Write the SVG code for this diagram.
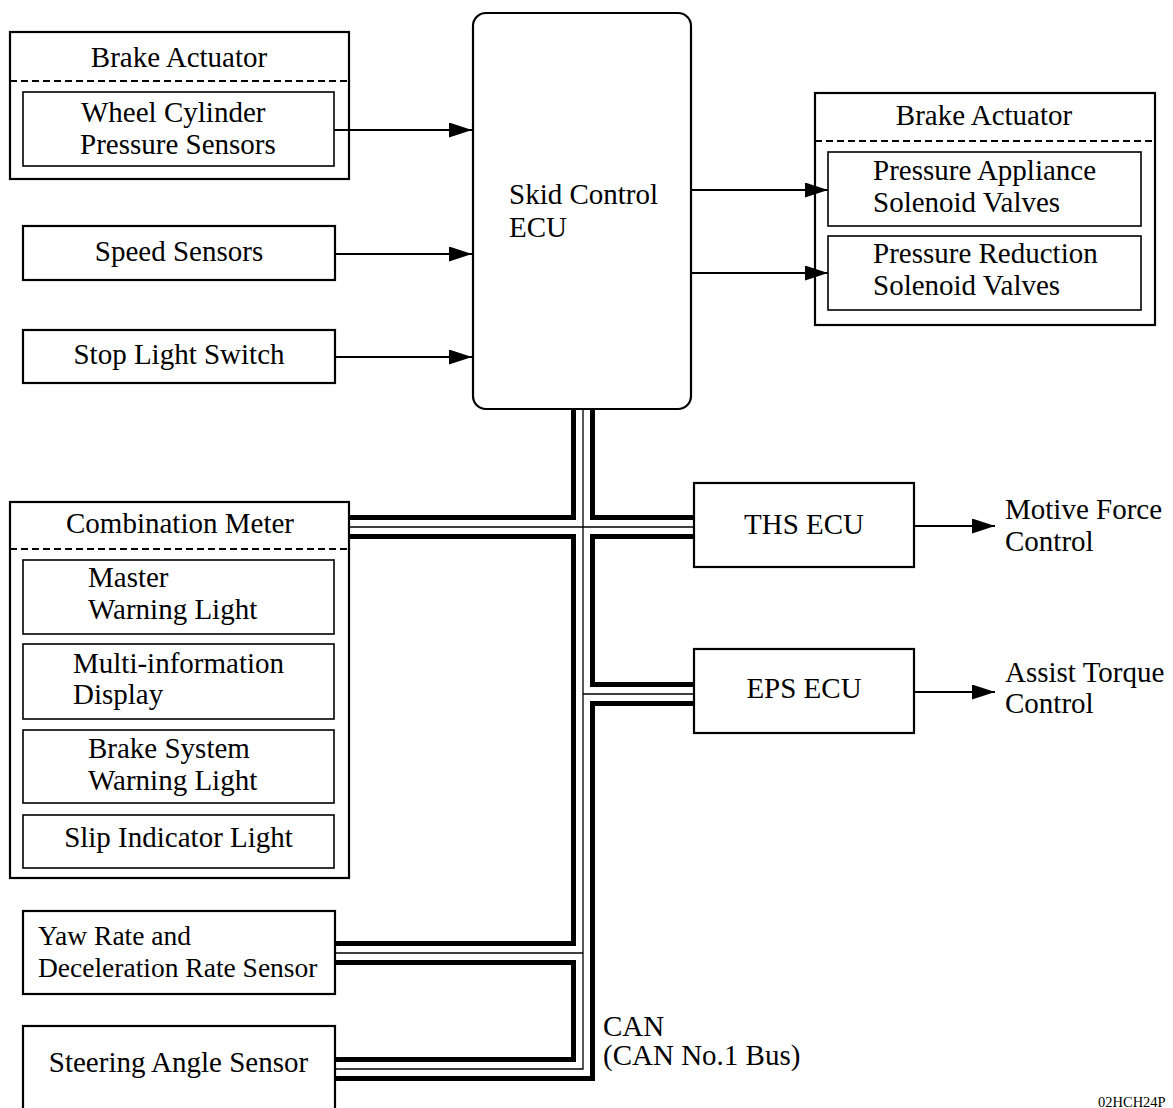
<svg xmlns="http://www.w3.org/2000/svg" width="1173" height="1108" viewBox="0 0 1173 1108">
<style>
text{font-family:"Liberation Serif","Times New Roman",serif;font-size:29px;fill:#000}
.c{text-anchor:middle}
.s{font-size:27.5px}
.box{fill:none;stroke:#000;stroke-width:2.2}
.inner{fill:none;stroke:#000;stroke-width:1.6}
.dash{stroke:#000;stroke-width:2;stroke-dasharray:7 4;fill:none}
.arrow{stroke:#000;stroke-width:2;fill:none;marker-end:url(#ah)}
.busO{stroke:#000;stroke-width:24;fill:none;stroke-linejoin:miter}
.busW{stroke:#fff;stroke-width:14;fill:none;stroke-linejoin:miter}
.busC{stroke:#000;stroke-width:1.3;fill:none;stroke-linejoin:miter}
</style>
<defs>
<marker id="ah" markerUnits="userSpaceOnUse" markerWidth="23" markerHeight="15" refX="23" refY="7.5" orient="auto">
<path d="M0,0 L23,7.5 L0,15 z" fill="#000"/>
</marker>
</defs>
<rect width="1173" height="1108" fill="#fff"/>

<g id="connectors">
<path class="busO" d="M583,409 V1069 H335 M349,527 H694 M583,694 H694 M583,953 H335"/>
<path class="busW" d="M583,409 V1069 H335 M349,527 H694 M583,694 H694 M583,953 H335"/>
<path class="busC" d="M583,409 V1069 H335 M349,527 H694 M583,694 H694 M583,953 H335"/>
<line class="arrow" x1="334" y1="130" x2="472" y2="130"/>
<line class="arrow" x1="335" y1="254" x2="472" y2="254"/>
<line class="arrow" x1="335" y1="357" x2="472" y2="357"/>
<line class="arrow" x1="691" y1="190" x2="828" y2="190"/>
<line class="arrow" x1="691" y1="273" x2="828" y2="273"/>
<line class="arrow" x1="914" y1="526" x2="995" y2="526"/>
<line class="arrow" x1="914" y1="692" x2="995" y2="692"/>
</g>

<g id="brake-actuator-left">
<rect class="box" x="10" y="32" width="339" height="147"/>
<line class="dash" x1="10" y1="81" x2="349" y2="81"/>
<text class="c" x="179" y="67">Brake Actuator</text>
<rect class="inner" x="23" y="92" width="311" height="74"/>
<text x="81" y="122">Wheel Cylinder</text>
<text x="80" y="154">Pressure Sensors</text>
</g>

<g id="speed-sensors">
<rect class="box" x="23" y="226" width="312" height="54"/>
<text class="c" x="179" y="261">Speed Sensors</text>
</g>

<g id="stop-light-switch">
<rect class="box" x="23" y="330" width="312" height="53"/>
<text class="c" x="179" y="364">Stop Light Switch</text>
</g>

<g id="skid-control-ecu">
<rect class="box" x="473" y="13" width="218" height="396" rx="13" ry="13"/>
<text x="509" y="204">Skid Control</text>
<text x="509" y="237">ECU</text>
</g>

<g id="brake-actuator-right">
<rect class="box" x="815" y="93" width="340" height="232"/>
<line class="dash" x1="815" y1="141" x2="1155" y2="141"/>
<text class="c" x="984" y="125">Brake Actuator</text>
<rect class="inner" x="828" y="152" width="313" height="74"/>
<text x="873" y="180">Pressure Appliance</text>
<text x="873" y="212">Solenoid Valves</text>
<rect class="inner" x="828" y="236" width="313" height="74"/>
<text x="873" y="263">Pressure Reduction</text>
<text x="873" y="295">Solenoid Valves</text>
</g>

<g id="combination-meter">
<rect class="box" x="10" y="502" width="339" height="376"/>
<line class="dash" x1="10" y1="549" x2="349" y2="549"/>
<text class="c" x="180" y="533">Combination Meter</text>
<rect class="inner" x="23" y="560" width="311" height="74"/>
<text x="88" y="587">Master</text>
<text x="88" y="619">Warning Light</text>
<rect class="inner" x="23" y="644" width="311" height="75"/>
<text x="73" y="673">Multi-information</text>
<text x="73" y="704">Display</text>
<rect class="inner" x="23" y="730" width="311" height="73"/>
<text x="88" y="758">Brake System</text>
<text x="88" y="790">Warning Light</text>
<rect class="inner" x="23" y="815" width="311" height="53"/>
<text class="c" x="178.5" y="847">Slip Indicator Light</text>
</g>

<g id="ths-ecu">
<rect class="box" x="694" y="483" width="220" height="84"/>
<text class="c" x="804" y="534">THS ECU</text>
</g>
<g id="motive-force-control">
<text x="1005" y="519">Motive Force</text>
<text x="1005" y="551">Control</text>
</g>

<g id="eps-ecu">
<rect class="box" x="694" y="649" width="220" height="84"/>
<text class="c" x="804" y="698">EPS ECU</text>
</g>
<g id="assist-torque-control">
<text x="1005" y="682">Assist Torque</text>
<text x="1005" y="713">Control</text>
</g>

<g id="yaw-rate-sensor">
<rect class="box" x="23" y="911" width="312" height="83"/>
<text class="s" x="38" y="945">Yaw Rate and</text>
<text class="s" x="38" y="977">Deceleration Rate Sensor</text>
</g>

<g id="steering-angle-sensor">
<rect class="box" x="23" y="1026" width="312" height="100"/>
<text class="c" x="178.5" y="1072">Steering Angle Sensor</text>
</g>

<g id="can-label">
<text x="603" y="1036">CAN</text>
<text x="603" y="1065">(CAN No.1 Bus)</text>
</g>

<text x="1098" y="1107" style="font-size:14.5px">02HCH24P</text>
</svg>
